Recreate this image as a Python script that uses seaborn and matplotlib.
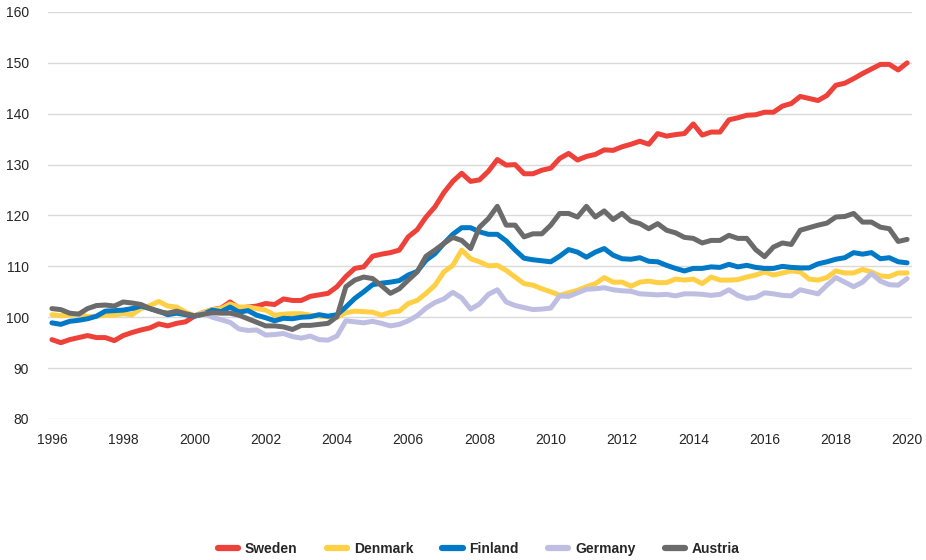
import numpy as np
import pandas as pd
import matplotlib
matplotlib.use("Agg")
import matplotlib.pyplot as plt
import seaborn as sns

# quarterly index, 2000 = 100, from 1996 Q1 to 2020 Q1
quarters = 1996 + np.arange(97) * 0.25

sweden = [
    95.6, 95.0, 95.6, 96.0,  96.4, 96.0, 96.0, 95.4,  96.4, 97.0, 97.5, 97.9,
    98.7, 98.3, 98.8, 99.1,  100.2, 100.9, 101.5, 101.8,  103.0, 101.8, 102.0, 102.2,
    102.7, 102.5, 103.6, 103.3,  103.3, 104.1, 104.4, 104.7,  106.0, 108.0, 109.6, 109.9,
    112.0, 112.4, 112.7, 113.2,  115.8, 117.2, 119.7, 121.7,  124.5, 126.7, 128.3, 126.7,
    127.0, 128.7, 131.0, 129.9,  130.0, 128.2, 128.2, 128.9,  129.3, 131.2, 132.2, 130.9,
    131.6, 132.0, 132.9, 132.8,  133.5, 134.0, 134.6, 134.0,  136.1, 135.6, 135.9, 136.1,
    138.0, 135.8, 136.4, 136.4,  138.8, 139.2, 139.7, 139.8,  140.3, 140.3, 141.5, 142.0,
    143.4, 143.0, 142.6, 143.6,  145.6, 146.0, 146.9, 147.9,  148.8, 149.7, 149.7, 148.6,
    150.0,
]
denmark = [
    100.5, 100.3, 100.4, 100.7,  100.1, 100.2, 100.4, 100.4,  100.7, 100.5, 101.7, 102.3,
    103.1, 102.2, 102.0, 101.0,  100.3, 101.0, 101.5, 101.7,  102.6, 102.0, 102.0, 101.7,
    101.4, 100.4, 100.6, 100.7,  100.7, 100.4, 100.2, 100.1,  100.0, 100.9, 101.2, 101.1,
    101.0, 100.4, 101.0, 101.2,  102.7, 103.3, 104.7, 106.3,  108.9, 110.2, 113.2, 111.5,
    110.9, 110.1, 110.2, 109.2,  107.9, 106.6, 106.3, 105.6,  105.0, 104.3, 104.8, 105.3,
    106.0, 106.6, 107.8, 106.9,  106.9, 106.1, 106.9, 107.1,  106.8, 106.8, 107.5, 107.3,
    107.5, 106.6, 107.9, 107.3,  107.3, 107.4, 107.9, 108.3,  108.9, 108.3, 108.7, 109.1,
    108.9, 107.5, 107.3, 107.8,  109.1, 108.7, 108.7, 109.4,  108.9, 108.1, 108.0, 108.7,
    108.7,
]
finland = [
    98.9, 98.6, 99.2, 99.4,  99.7, 100.2, 101.2, 101.3,  101.4, 101.7, 102.2, 101.7,
    101.2, 100.5, 100.8, 100.5,  100.2, 100.6, 101.4, 101.1,  102.0, 101.0, 101.3, 100.4,
    99.9, 99.3, 99.8, 99.7,  100.0, 100.1, 100.5, 100.2,  100.5, 102.0, 103.7, 105.0,
    106.4, 106.7, 106.9, 107.2,  108.3, 109.0, 111.2, 112.5,  114.5, 116.3, 117.6, 117.6,
    116.8, 116.3, 116.3, 115.0,  113.2, 111.6, 111.3, 111.1,  110.9, 112.0, 113.3, 112.8,
    111.8, 112.8, 113.5, 112.2,  111.5, 111.4, 111.7, 111.0,  110.9, 110.2, 109.6, 109.1,
    109.6, 109.6, 109.9, 109.8,  110.4, 109.9, 110.2, 109.8,  109.6, 109.6, 110.0, 109.8,
    109.7, 109.7, 110.5, 110.9,  111.4, 111.7, 112.7, 112.4,  112.7, 111.5, 111.7, 110.9,
    110.7,
]
germany = [
    np.nan] * 16 + [
    100.3, 100.8, 100.0, 99.5,  99.0, 97.7, 97.4, 97.5,
    96.5, 96.6, 96.8, 96.2,  95.9, 96.3, 95.6, 95.5,  96.3, 99.3, 99.1, 98.9,
    99.2, 98.8, 98.3, 98.6,  99.3, 100.3, 101.8, 102.9,  103.6, 104.9, 103.8, 101.6,
    102.6, 104.5, 105.4, 103.0,  102.3, 101.9, 101.5, 101.6,  101.8, 104.2, 104.1, 104.8,
    105.5, 105.6, 105.8, 105.4,  105.2, 105.1, 104.6, 104.5,  104.4, 104.5, 104.2, 104.6,
    104.6, 104.5, 104.3, 104.5,  105.4, 104.3, 103.7, 103.9,  104.8, 104.6, 104.3, 104.2,
    105.4, 105.0, 104.6, 106.3,  107.8, 106.9, 106.0, 106.9,  108.6, 107.1, 106.4, 106.3,
    107.6,
]
austria = [
    101.7, 101.5, 100.8, 100.6,  101.7, 102.3, 102.4, 102.2,  103.0, 102.8, 102.5, 101.7,
    101.1, 100.8, 101.2, 100.7,  100.3, 100.6, 100.9, 100.8,  100.8, 100.4, 99.7, 99.0,
    98.3, 98.3, 98.1, 97.6,  98.4, 98.4, 98.6, 98.8,  100.1, 106.0, 107.3, 107.9,
    107.6, 106.2, 104.7, 105.6,  107.3, 108.9, 112.0, 113.2,  114.5, 115.7, 115.1, 113.5,
    117.7, 119.4, 121.8, 118.1,  118.1, 115.8, 116.4, 116.4,  118.1, 120.4, 120.4, 119.7,
    121.8, 119.7, 120.9, 119.2,  120.4, 118.9, 118.4, 117.4,  118.4, 117.1, 116.6, 115.7,
    115.5, 114.6, 115.1, 115.1,  116.1, 115.5, 115.5, 113.3,  111.9, 113.8, 114.6, 114.3,
    117.1, 117.6, 118.1, 118.5,  119.7, 119.8, 120.4, 118.7,  118.7, 117.7, 117.4, 114.9,
    115.3,
]

countries = ["Sweden", "Denmark", "Finland", "Germany", "Austria"]
colors = ["#EE4139", "#FFD045", "#0079C6", "#BEBEE3", "#6B6B6B"]
year_ticks = list(range(1996, 2021, 2))
value_ticks = list(range(80, 161, 10))

df = pd.DataFrame({"Quarter": quarters, "Sweden": sweden, "Denmark": denmark,
                   "Finland": finland, "Germany": germany, "Austria": austria})
long = df.melt(id_vars="Quarter", var_name="Country", value_name="Index").dropna()

sns.set_style("white")
plt.rcParams["font.family"] = ["Liberation Sans", "DejaVu Sans"]

fig = plt.figure(figsize=(9.26, 5.6), dpi=100)
ax = fig.add_axes([0.0522, 0.2518, 0.9324, 0.7268])

sns.lineplot(data=long, x="Quarter", y="Index", hue="Country", hue_order=countries,
             palette=colors, linewidth=3.6, errorbar=None, ax=ax)

ax.set_xlim(1995.9, 2020.13)
ax.set_ylim(80, 160)
ax.set_xticks(year_ticks)
ax.set_yticks(value_ticks)
ax.set_xlabel("")
ax.set_ylabel("")
ax.yaxis.grid(True, color="#DADADA", linewidth=1.0)
ax.xaxis.grid(False)
for s in ax.spines.values():
    s.set_visible(False)
ax.tick_params(axis="x", length=0, pad=10, labelsize=10, labelcolor="#262626")
ax.tick_params(axis="y", length=0, pad=14, labelsize=10, labelcolor="#262626")

handles, labels = ax.get_legend_handles_labels()
ax.get_legend().remove()
leg = fig.legend(handles, labels, loc="center", bbox_to_anchor=(0.517, 0.0196),
                 ncol=5, frameon=False, handlelength=1.45, handletextpad=0.5,
                 columnspacing=2.1, prop={"weight": "bold", "size": 10})
for h in leg.legend_handles:
    h.set_linewidth(4.5)

fig.savefig("out.png", dpi=100)
